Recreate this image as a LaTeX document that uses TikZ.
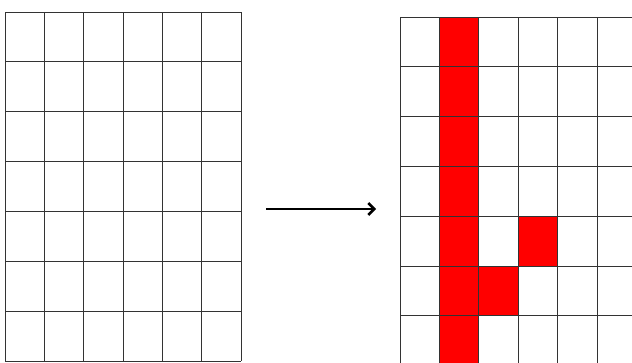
\documentclass[tikz,border=0pt]{standalone}
\usepackage{tikz}
\usetikzlibrary{arrows.meta}

\begin{document}
\begin{tikzpicture}[x=0.03cm, y=-0.03cm,
    gridline/.style={line width=0.8pt, black!80},
    hitcell/.style={fill=red, draw=black!80, line width=0.8pt}]
  \useasboundingbox (0,0) rectangle (632,363);
  \clip (0,0) rectangle (632,363);
  % left grid, empty
  \foreach \i in {0,...,6}
    \draw[gridline] ({5+39.33*\i},12) -- ({5+39.33*\i},361);
  \foreach \j in {0,...,7}
    \draw[gridline] (5,{12+49.86*\j}) -- (241,{12+49.86*\j});
  % right grid, marked cells
  \foreach \c/\r in {1/0,1/1,1/2,1/3,1/4,1/5,1/6,2/5,3/4}
    \draw[hitcell] ({400+39.4*\c},{17+49.8*\r}) rectangle ++(39.4,49.8);
  \foreach \i in {0,...,6}
    \draw[gridline] ({400+39.4*\i},17) -- ({400+39.4*\i},366);
  \foreach \j in {0,...,7}
    \draw[gridline] (400,{17+49.8*\j}) -- (640,{17+49.8*\j});
  % arrow
  \coordinate (tail) at (266,209);
  \coordinate (head) at (376,209);
  \draw[line width=2.2pt, -{Straight Barb[length=5pt,width=10pt]}] (tail) -- (head);
\end{tikzpicture}
\end{document}
